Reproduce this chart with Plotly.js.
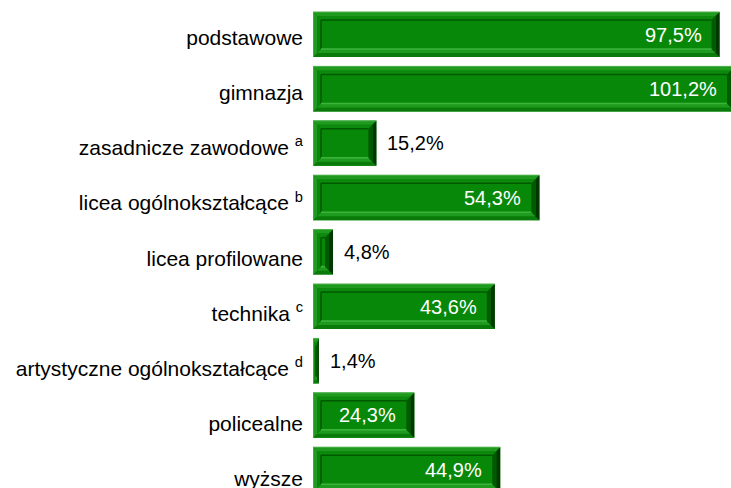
<!DOCTYPE html>
<html>
<head>
<meta charset="utf-8">
<script src="https://cdn.plot.ly/plotly-3.0.1.min.js"></script>
<style>html,body{margin:0;padding:0;background:#fff;}#chart{width:731px;height:488px;}</style>
</head>
<body>
<div id="chart"></div>
<script>
const categories = ['podstawowe', 'gimnazja', 'zasadnicze zawodowe <sup>a</sup>', 'licea ogólnokształcące <sup>b</sup>', 'licea profilowane', 'technika <sup>c</sup>', 'artystyczne ogólnokształcące <sup>d</sup>', 'policealne', 'wyższe'];
const values = [97.5, 101.2, 15.2, 54.3, 4.8, 43.6, 1.4, 24.3, 44.9];
const valueLabels = ['97,5%', '101,2%', '15,2%', '54,3%', '4,8%', '43,6%', '1,4%', '24,3%', '44,9%'];

const W = 731, H = 488, ML = 313;
const xMax = 100.24;
const pxX = (W - ML) / xMax;           // pixels per x unit
const rowPx = 54.4;                     // pixels per category (bars)
const yTop = -34.5 / rowPx;
const yBot = yTop + H / rowPx;
const labRowPx = 55.2;                  // pixels per category (labels)
const yTop2 = -37.5 / labRowPx;
const yBot2 = yTop2 + H / labRowPx;
const barW = 45 / rowPx;
const bx = 8 / pxX, by = 8 / rowPx;
const FONT = 'Liberation Sans, Arial, sans-serif';

const idx = categories.map((_, i) => i);

const shapes = [];
const annotations = [];
function poly(pts, color) {
  shapes.push({type: 'path', xref: 'x', yref: 'y', layer: 'above',
    path: 'M' + pts.map(p => p[0] + ',' + p[1]).join('L') + 'Z',
    fillcolor: color, line: {width: 0}});
}
function seg(xa, ya, xb, yb, color, w) {
  shapes.push({type: 'line', xref: 'x', yref: 'y', layer: 'above',
    x0: xa, y0: ya, x1: xb, y1: yb, line: {color: color, width: w || 1}});
}
values.forEach((v, i) => {
  const x0 = 0, x1 = v, y0 = i - barW / 2, y1 = i + barW / 2;
  const hx = Math.min(bx, v / 2);
  const ix0 = x0 + hx, ix1 = x1 - hx, iy0 = y0 + by, iy1 = y1 - by;
  const mx = hx / 2, my = by / 2;
  poly([[x0, y0], [x1, y0], [x1 - mx, y0 + my], [x0 + mx, y0 + my]], '#1f9a1f');
  poly([[x0 + mx, y0 + my], [x1 - mx, y0 + my], [ix1, iy0], [ix0, iy0]], '#0d8a0d');
  poly([[x0, y1], [x1, y1], [x1 - mx, y1 - my], [x0 + mx, y1 - my]], '#0a7a0a');
  poly([[x0 + mx, y1 - my], [x1 - mx, y1 - my], [ix1, iy1], [ix0, iy1]], '#1e9a1e');
  poly([[x0, y0], [x0 + mx, y0 + my], [x0 + mx, y1 - my], [x0, y1]], '#1f9c1f');
  poly([[x0 + mx, y0 + my], [ix0, iy0], [ix0, iy1], [x0 + mx, y1 - my]], '#0b850b');
  poly([[x1, y0], [x1 - mx, y0 + my], [x1 - mx, y1 - my], [x1, y1]], '#003800');
  poly([[x1 - mx, y0 + my], [ix1, iy0], [ix1, iy1], [x1 - mx, y1 - my]], '#005a00');
  seg(ix0, iy0, ix1, iy0, '#005800', 1.5);
  seg(ix0, iy0, ix0, iy1, '#005800', 1.5);
  seg(ix0, iy1, ix1, iy1, '#3cb43c', 1.5);
  seg(x0, y0, x1, y0, '#4cb04c', 1);
  seg(x0, y0, x0, y1, '#5cbc5c', 1);

  const inside = v > 20;
  annotations.push({
    xref: 'x', yref: 'y', y: i,
    x: inside ? v - 17 / pxX : v + 10 / pxX,
    xanchor: inside ? 'right' : 'left', yanchor: 'middle',
    text: valueLabels[i], showarrow: false, borderpad: 0,
    font: {family: FONT, size: 20, color: inside ? '#ffffff' : '#000000'}
  });
});

const trace = {
  type: 'bar', orientation: 'h',
  x: values, y: idx, width: barW,
  marker: {color: '#088808', line: {width: 0}},
  hoverinfo: 'none'
};
const labelTrace = {
  type: 'scatter', mode: 'markers', x: values, y: idx, yaxis: 'y2',
  marker: {opacity: 0, size: 1}, hoverinfo: 'none'
};

const layout = {
  width: W, height: H,
  margin: {l: ML, r: 0, t: 0, b: 0, pad: 0},
  paper_bgcolor: '#ffffff', plot_bgcolor: '#ffffff',
  showlegend: false,
  xaxis: {range: [0, xMax], visible: false, fixedrange: true},
  yaxis: {range: [yBot, yTop], showticklabels: false,
    ticks: '', showgrid: false, zeroline: false, showline: false, fixedrange: true},
  yaxis2: {range: [yBot2, yTop2], overlaying: 'y', side: 'left',
    tickvals: idx, ticktext: categories,
    ticks: '', showgrid: false, zeroline: false, showline: false,
    ticklabelstandoff: 9, ticklabeloverflow: 'allow',
    tickfont: {family: FONT, size: 21, color: '#000000'}, fixedrange: true},
  shapes: shapes,
  annotations: annotations
};

Plotly.newPlot('chart', [trace, labelTrace], layout, {displayModeBar: false, staticPlot: true});
</script>
</body>
</html>
